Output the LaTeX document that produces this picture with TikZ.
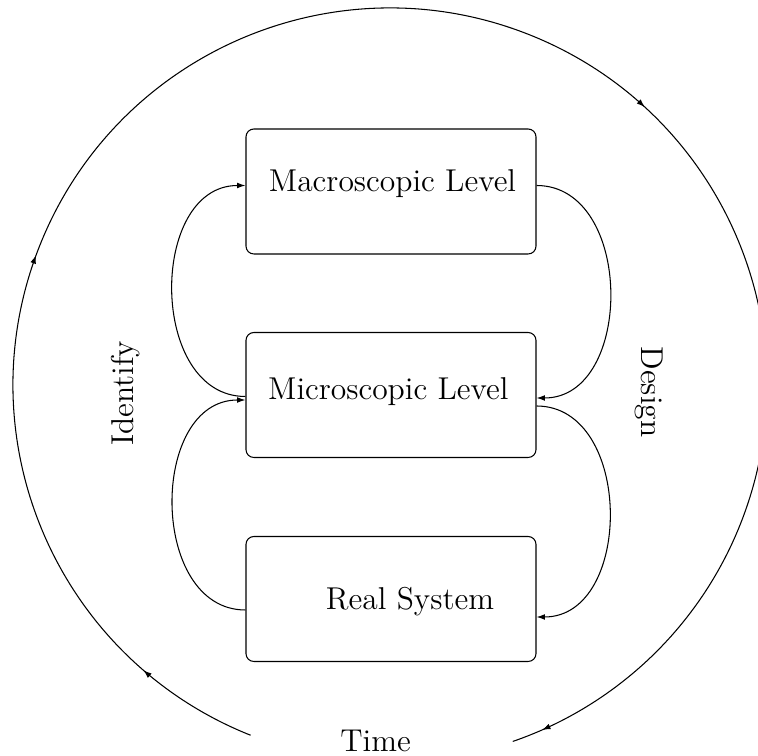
\documentclass[tikz,border=0pt]{standalone}
\usepackage{tikz}
\usetikzlibrary{arrows.meta,decorations.markings,calc}

\begin{document}
\begin{tikzpicture}[x=0.38pt,y=0.38pt,font=\fontsize{12}{14}\selectfont,>={Latex[length=3.2pt,width=2.2pt]}]
	\tikzstyle{level}=[draw=black,rounded corners=3pt,minimum width=110.2pt,minimum height=47.5pt,inner sep=0pt]
	\tikzstyle{word}=[anchor=base,inner sep=0pt]
	\tikzstyle{cycle}=[postaction={decorate},decoration={markings,
		mark=at position 0.06 with {\arrow{>}},
		mark=at position 0.277 with {\arrow{>}},
		mark=at position 0.629 with {\arrow{>}},
		mark=at position 0.985 with {\arrow{>}}}]
	\useasboundingbox (0,0) rectangle (758,756);
	\node[level](mac) at (391,564.5) {};
	\node[level](mic) at (391,361) {};
	\node[level](real) at (391,157) {};
	\node[word](macT) at (392.5,564.3) {Macroscopic Level};
	\node[word](micT) at (388.3,356) {Microscopic Level};
	\node[word](realT) at (410,146.7) {Real System};
	\node[word,rotate=90](ident) at (133.3,362.5) {Identify};
	\node[word,rotate=-90](design) at (641,364) {Design};
	\node[word](time) at (375.6,4.3) {Time};
	\coordinate (c) at (390,371);
	\coordinate (tbeg) at ($(c)+(248.3:377)$);
	\draw[cycle] (tbeg) arc[start angle=248.3,end angle=-71,radius=377];
	\draw[->] ($(mic.west)+(0,-1.5)$) to[out=180,in=180,looseness=1.18] ($(mac.west)+(0,6)$);
	\draw[->] ($(real.west)+(0,-11)$) to[out=180,in=180,looseness=1.18] ($(mic.west)+(0,-5)$);
	\draw[->] ($(mac.east)+(0,6)$) to[out=0,in=0,looseness=1.18] ($(mic.east)+(0,-3)$);
	\draw[->] ($(mic.east)+(0,-11)$) to[out=0,in=0,looseness=1.18] ($(real.east)+(0,-18)$);
\end{tikzpicture}
\end{document}
